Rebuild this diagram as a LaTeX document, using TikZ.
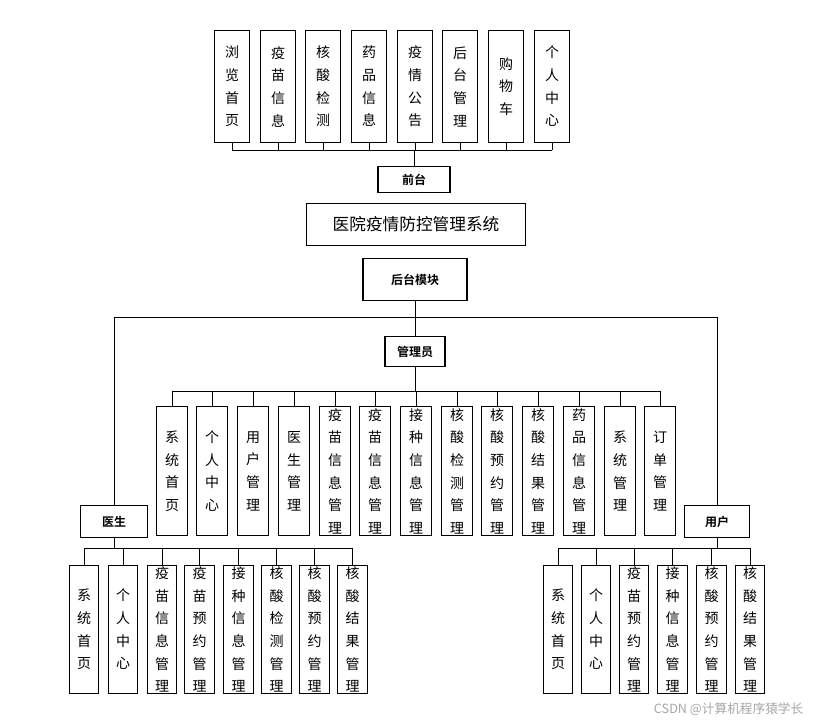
\documentclass[tikz,border=0pt]{standalone}
\usepackage{fontspec}
\setmainfont{Noto Sans CJK SC}
\newfontfamily\boldcjk{Noto Sans CJK SC Bold}
\begin{document}
\begin{tikzpicture}[x=0.75pt,y=-0.75pt,
  box/.style={draw,line width=0.8pt,inner sep=0pt,font=\fontsize{10.5}{17}\selectfont,align=center},
  sbox/.style={box,font=\boldcjk\fontsize{9}{10}\selectfont},
  ln/.style={line width=0.6pt}]
\useasboundingbox (0,0) rectangle (818,725);
% top
\foreach \c/\t [count=\i] in {232/浏\\览\\首\\页,278/疫\\苗\\信\\息,323/核\\酸\\检\\测,369/药\\品\\信\\息,415/疫\\情\\公\\告,460/后\\台\\管\\理,506/购\\物\\车,552/个\\人\\中\\心}{
  \node[box,minimum width=26pt,minimum height=84pt,anchor=north] (t\i) at (\c,30) {\t};
  \draw[ln] (t\i.south) -- (\c,150);
}
\draw[ln] (232,150) -- (552,150);
\node[sbox,minimum width=54pt,minimum height=20pt] (qt) at (414,179.5) {前台};
\draw[ln] (414,150) -- (qt.north);
\node[box,minimum width=164pt,minimum height=31pt,font=\fontsize{12.5}{14}\selectfont] (sys) at (416,224.5) {医院疫情防控管理系统};
\node[sbox,minimum width=78pt,minimum height=31pt] (ht) at (415,279.5) {后台模块};
\draw[ln] (ht.south) -- (415,317);
\draw[ln] (114,317) -- (717,317);
\node[sbox,minimum width=45pt,minimum height=23pt] (adm) at (415,351.5) {管理员};
\draw[ln] (415,317) -- (adm.north);
\node[sbox,minimum width=50pt,minimum height=24pt] (doc) at (114,521.5) {医生};
\draw[ln] (114,317) -- (doc.north);
\node[sbox,minimum width=49pt,minimum height=24pt] (usr) at (717,521.5) {用户};
\draw[ln] (717,317) -- (usr.north);
% admin children
\draw[ln] (adm.south) -- (415,391);
\draw[ln] (172,391) -- (660,391);
\foreach \c/\t [count=\i] in {172/系\\统\\首\\页,212/个\\人\\中\\心,253/用\\户\\管\\理,294/医\\生\\管\\理,335/疫\\苗\\信\\息\\管\\理,375/疫\\苗\\信\\息\\管\\理,416/接\\种\\信\\息\\管\\理,457/核\\酸\\检\\测\\管\\理,497/核\\酸\\预\\约\\管\\理,538/核\\酸\\结\\果\\管\\理,579/药\\品\\信\\息\\管\\理,620/系\\统\\管\\理,660/订\\单\\管\\理}{
  \node[box,minimum width=23pt,minimum height=97pt,anchor=north] (a\i) at (\c,406) {\t};
  \draw[ln] (\c,391) -- (a\i.north);
}
% doctor children
\draw[ln] (doc.south) -- (114,548);
\draw[ln] (84,548) -- (352.5,548);
\foreach \c/\t [count=\i] in {84/系\\统\\首\\页,123/个\\人\\中\\心,162/疫\\苗\\信\\息\\管\\理,199.5/疫\\苗\\预\\约\\管\\理,238.5/接\\种\\信\\息\\管\\理,276.5/核\\酸\\检\\测\\管\\理,314.5/核\\酸\\预\\约\\管\\理,352.5/核\\酸\\结\\果\\管\\理}{
  \node[box,minimum width=22pt,minimum height=96pt,anchor=north] (d\i) at (\c,565) {\t};
  \draw[ln] (\c,548) -- (d\i.north);
}
% user children
\draw[ln] (usr.south) -- (717,548);
\draw[ln] (558,548) -- (750,548);
\foreach \c/\t [count=\i] in {558/系\\统\\首\\页,596/个\\人\\中\\心,634/疫\\苗\\预\\约\\管\\理,672.5/接\\种\\信\\息\\管\\理,711.5/核\\酸\\预\\约\\管\\理,750/核\\酸\\结\\果\\管\\理}{
  \node[box,minimum width=22pt,minimum height=96pt,anchor=north] (u\i) at (\c,565) {\t};
  \draw[ln] (\c,548) -- (u\i.north);
}
\node[text=gray!70,font=\fontsize{9.5}{10}\selectfont,anchor=east] (wm) at (808,709) {CSDN @计算机程序猿学长};
\end{tikzpicture}
\end{document}
